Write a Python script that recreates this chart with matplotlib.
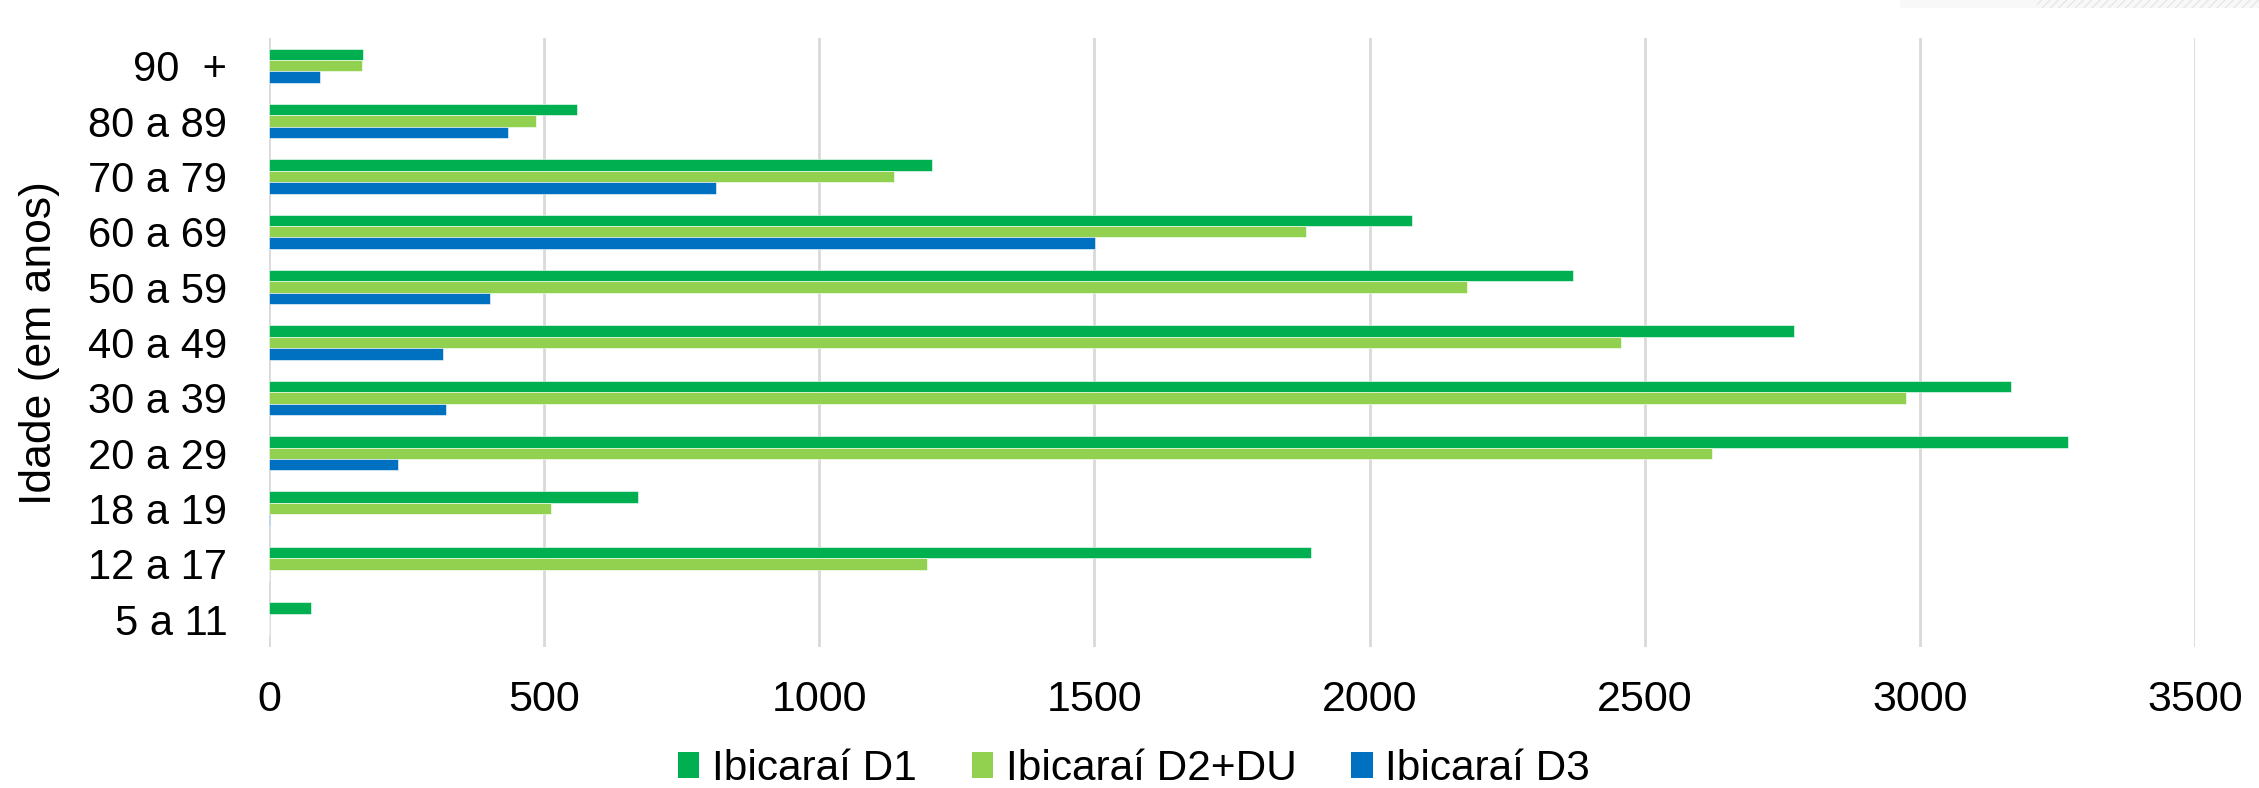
import matplotlib
matplotlib.use("Agg")
import matplotlib.pyplot as plt
import numpy as np
from matplotlib.patches import Rectangle, Patch

plt.rcParams['font.family'] = ['Liberation Sans', 'DejaVu Sans']

categories = ["5 a 11", "12 a 17", "18 a 19", "20 a 29", "30 a 39", "40 a 49",
              "50 a 59", "60 a 69", "70 a 79", "80 a 89", "90  +"]
d1 = [77, 1893, 670, 3270, 3165, 2771, 2369, 2077, 1205, 560, 170]
d2 = [0, 1195, 513, 2623, 2974, 2456, 2177, 1884, 1135, 485, 169]
d3 = [0, 0, 2, 235, 322, 317, 401, 1501, 813, 435, 93]
series_names = ["Ibicaraí D1", "Ibicaraí D2+DU", "Ibicaraí D3"]
colors = ["#00B050", "#92D050", "#0070C0"]
xticks = [0, 500, 1000, 1500, 2000, 2500, 3000, 3500]

W, H = 2259, 788
fig = plt.figure(figsize=(W / 100, H / 100), dpi=100)
ax = fig.add_axes([269 / W, 1 - 647 / H, (2195 - 269) / W, (647 - 38) / H])

y = np.arange(len(categories))
bh = 0.206
for vals, off, c in zip([d1, d2, d3], [bh, 0, -bh], colors):
    ax.barh(y + off, vals, height=bh, color=c, edgecolor='white', linewidth=0.4, zorder=3)

ax.set_xlim(0, 3500)
ax.set_ylim(-0.5, len(categories) - 0.5)
ax.set_xticks(xticks)
ax.set_xticklabels([str(v) for v in xticks])
ax.set_yticks(y)
ax.set_yticklabels(categories)
ax.tick_params(axis='both', length=0, colors='black')
ax.tick_params(axis='y', pad=30, labelsize=30)
ax.tick_params(axis='x', pad=24, labelsize=31)
ax.grid(axis='x', color='#D9D9D9', linewidth=2, zorder=0)
for s in ax.spines.values():
    s.set_visible(False)

fig.text(40 / W, 1 - 343 / H, "Idade (em anos)", rotation=90, va='center', ha='center',
         fontsize=32)

handles = [Patch(facecolor=c, edgecolor='none') for c in colors]
fig.legend(handles, series_names, loc='center', bbox_to_anchor=(0.502, 1 - 769 / H),
           ncol=3, frameon=False, fontsize=30.5, handlelength=0.5, handleheight=0.55,
           handletextpad=0.3, columnspacing=1.3, borderpad=0)

# faint hatched strip at top right
fig.patches.append(Rectangle((1900 / W, 1 - 8 / H), 137 / W, 8 / H, transform=fig.transFigure,
                             facecolor='#F8F8F8', edgecolor='none'))
fig.patches.append(Rectangle((2037 / W, 1 - 8 / H), (W - 2037) / W, 8 / H, transform=fig.transFigure,
                             facecolor='#F8F8F8', edgecolor='#E6E6E6', hatch='////', linewidth=0))

fig.savefig("out.png", dpi=100, facecolor='white')
